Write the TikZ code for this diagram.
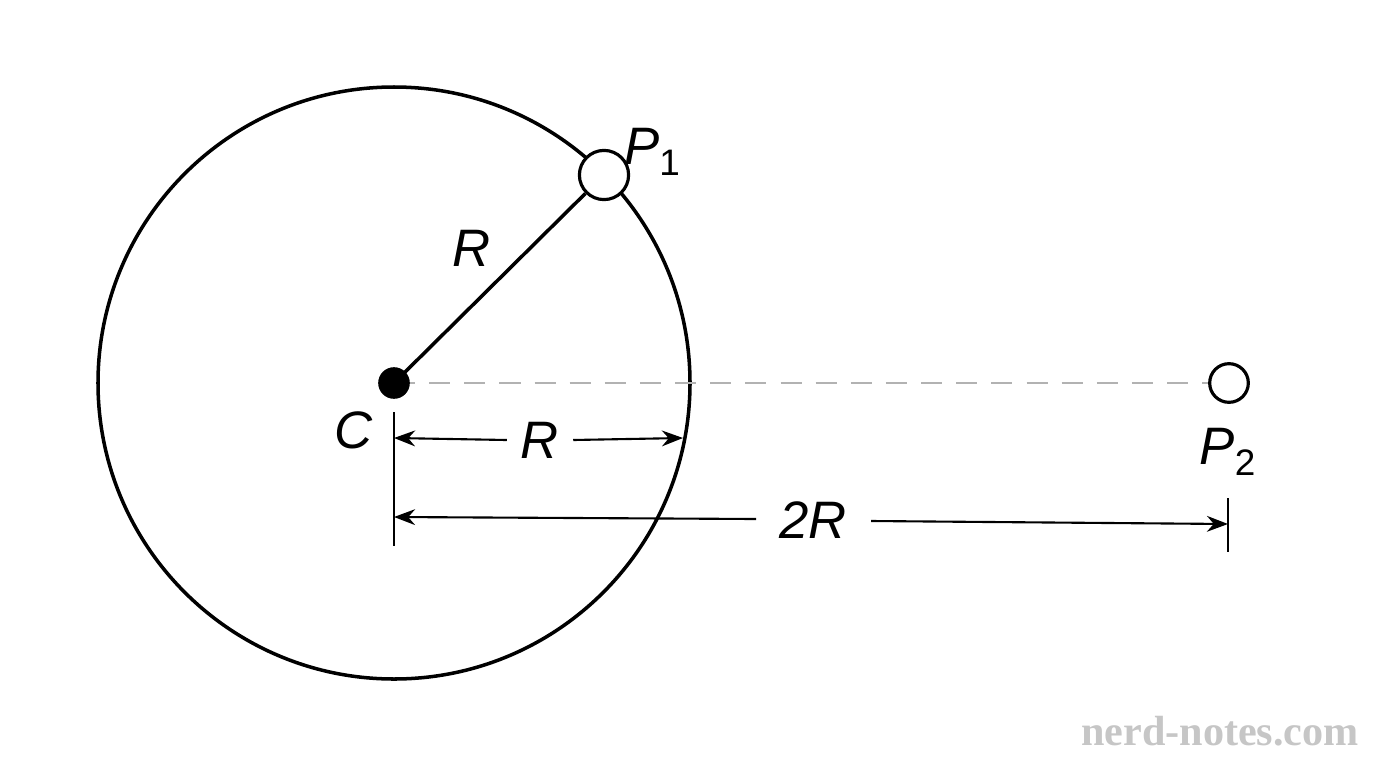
\documentclass[tikz,border=0pt]{standalone}
\usepackage{fontspec}
\setmainfont{Liberation Sans}
\newfontfamily\wm{Liberation Serif}
\usetikzlibrary{arrows.meta}
\begin{document}
\begin{tikzpicture}[x=0.02cm,y=-0.02cm,
  lbl/.style={font=\fontsize{30}{30}\selectfont\itshape},
  dim/.style={line width=1.2pt,-{Stealth[length=12pt,width=9pt]}},
  tick/.style={line width=1.2pt}]
\useasboundingbox (0,0) rectangle (1376,768);
\fill[white] (0,0) rectangle (1376,768);
\coordinate (C) at (394,383);
\draw[line width=2pt] (C) circle (296);
\node[circle,draw,fill=white,line width=1.8pt,minimum size=28pt,inner sep=0] (P1) at (604,175) {};
\node[circle,draw,fill=white,line width=1.8pt,minimum size=22pt,inner sep=0] (P2) at (1229,383) {};
\draw[gray!60,line width=1.5pt,dash pattern=on 12pt off 8pt] (C) -- (P2);
\draw[line width=2pt] (C) -- (P1);
\node[circle,fill=black,minimum size=18pt,inner sep=0] (Cd) at (C) {};
\node[lbl,anchor=west] (p1l) at (618,152) {P\textsubscript{\upshape 1}};
\node[lbl] (rl) at (472,248) {R};
\node[lbl] (cl) at (354,430) {C};
\node[lbl] (p2l) at (1228,452) {P\textsubscript{\upshape 2}};
% ticks
\coordinate (t1a) at (394,412); \coordinate (t1b) at (394,546);
\draw[tick] (t1a) -- (t1b);
\coordinate (t2a) at (1228,498); \coordinate (t2b) at (1228,552);
\draw[tick] (t2a) -- (t2b);
% R dimension
\node[lbl] (rd) at (540,440) {R};
\coordinate (a1) at (394,438); \coordinate (a2) at (683,438);
\draw[dim] (rd.west) ++(-8,0) -- (a1);
\draw[dim] (rd.east) ++(8,0) -- (a2);
% 2R dimension
\node[lbl] (r2) at (813,520) {2R};
\coordinate (b1) at (394,517); \coordinate (b2) at (1228,524);
\draw[dim] (756,519) -- (b1);
\draw[dim] (871,521) -- (b2);
\node[font=\wm\bfseries\fontsize{24}{24}\selectfont,text=gray!45] (wm) at (1220,731) {nerd-notes.com};
\end{tikzpicture}
\end{document}
